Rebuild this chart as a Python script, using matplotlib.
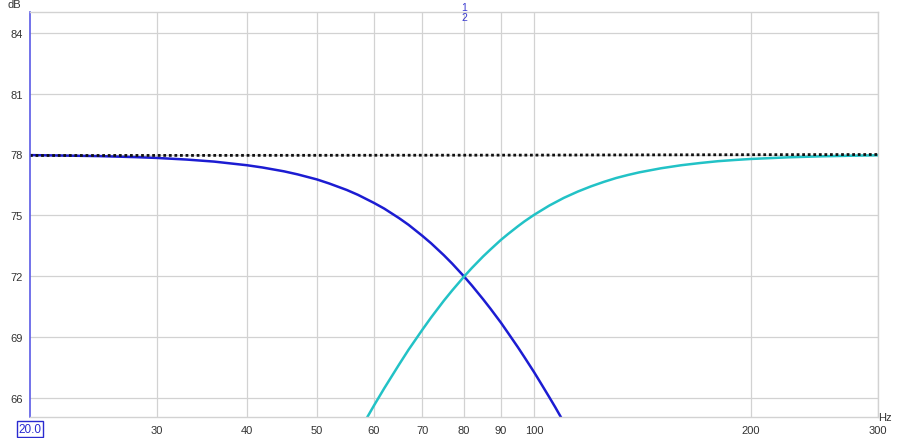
import numpy as np
import matplotlib.pyplot as plt
from matplotlib.ticker import FixedLocator, NullLocator

plt.rcParams["font.family"] = ["Liberation Sans", "DejaVu Sans"]

# values (Hz, dB)
lp_freq = [20, 22, 25, 28, 30, 33, 36, 40, 42, 45, 47, 50, 52, 55, 57, 60,
           62, 65, 67, 70, 72, 75, 77, 80, 82, 85, 87, 90, 92, 95, 97, 100,
           102, 105, 107, 110]
lp_db = [77.97, 77.95, 77.92, 77.87, 77.83, 77.75, 77.65, 77.47, 77.36, 77.17,
         77.02, 76.77, 76.57, 76.25, 76.01, 75.61, 75.33, 74.86, 74.53, 73.99,
         73.62, 73.03, 72.62, 71.98, 71.54, 70.86, 70.40, 69.70, 69.21, 68.49,
         68.00, 67.27, 66.77, 66.03, 65.54, 64.79]

hp_freq = [55, 57, 58, 60, 62, 65, 67, 70, 72, 75, 77, 80, 82, 85, 87, 90,
           92, 95, 97, 100, 105, 110, 115, 120, 125, 130, 135, 140, 150, 160,
           170, 180, 190, 200, 225, 250, 275, 300]
hp_db = [63.23, 64.23, 64.71, 65.62, 66.47, 67.64, 68.37, 69.35, 69.96, 70.79,
         71.29, 71.98, 72.40, 72.97, 73.31, 73.79, 74.07, 74.46, 74.70, 75.02,
         75.48, 75.86, 76.17, 76.43, 76.65, 76.84, 76.99, 77.12, 77.32, 77.47,
         77.58, 77.67, 77.73, 77.78, 77.86, 77.91, 77.94, 77.96]

sum_freq = [20, 50, 100, 200, 300]
sum_db = [77.95, 77.96, 77.97, 77.99, 78.0]

x_ticks = [30, 40, 50, 60, 70, 80, 90, 100, 200, 300]
x_labels = ["30", "40", "50", "60", "70", "80", "90", "100", "200", "300"]
y_ticks = [66, 69, 72, 75, 78, 81, 84]

W, H = 900, 439
fig = plt.figure(figsize=(W / 100, H / 100), dpi=100)
ax = fig.add_axes([30 / W, 21 / H, 848 / W, 405 / H])

grid_c = "#d2d2d2"
ax.set_xscale("log")
ax.set_xlim(20, 300)
ax.set_ylim(65.05, 85.03)
ax.xaxis.set_major_locator(FixedLocator(x_ticks))
ax.xaxis.set_minor_locator(NullLocator())
ax.set_xticks(x_ticks)
ax.set_xticklabels(x_labels)
ax.set_yticks(y_ticks)
ax.set_yticklabels([str(v) for v in y_ticks])
ax.grid(True, color=grid_c, linewidth=0.9)
ax.set_axisbelow(True)
ax.tick_params(length=0, labelsize=8, colors="#333333", pad=6)
ax.tick_params(axis="y", pad=5)

for s in ["top", "right", "bottom"]:
    ax.spines[s].set_color(grid_c)
    ax.spines[s].set_linewidth(1)
ax.spines["left"].set_color("#5a5ae6")
ax.spines["left"].set_linewidth(1.2)

ax.plot(lp_freq, lp_db, color="#1c1cd2", lw=1.8, solid_capstyle="butt")
ax.plot(hp_freq, hp_db, color="#22c2c6", lw=1.8, solid_capstyle="butt")
ax.plot(sum_freq, sum_db, color="#111111", lw=2, linestyle=(0, (1, 1)))

fig.text(8 / W, 1 - 5 / H, "dB", fontsize=8, color="#333333", va="center")
fig.text(878 / W, 1 - 418 / H, "Hz", fontsize=8, color="#333333", va="center")
fig.text(30 / W, 1 - 430 / H, "20.0", fontsize=8.5, color="#2a2ad0", ha="center",
         va="center",
         bbox=dict(boxstyle="square,pad=0.15", fc="white", ec="#2a2ad0", lw=1))
fig.text(464 / W, 1 - 8 / H, "1", fontsize=7.5, color="#3a3ad0", ha="center", va="center")
fig.text(464 / W, 1 - 18 / H, "2", fontsize=7.5, color="#3a3ad0", ha="center", va="center")

fig.savefig("out.png", dpi=100)
